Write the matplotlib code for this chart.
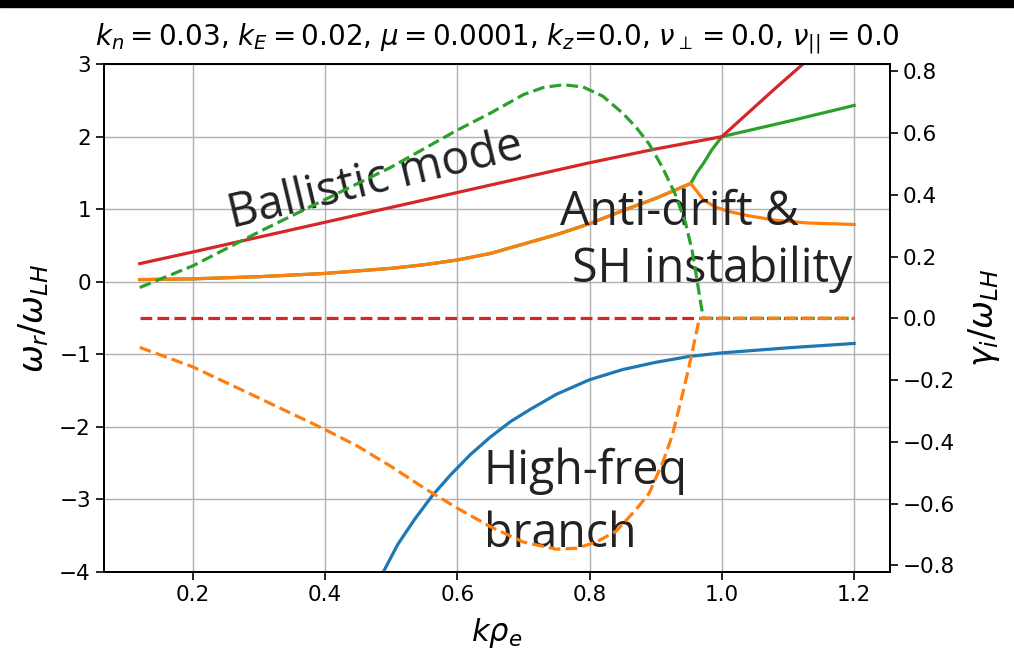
import numpy as np
import matplotlib.pyplot as plt
from matplotlib.patches import Rectangle

# ---- data ----
# real frequency (left axis)
k_blue = [0.45, 0.487, 0.51, 0.535, 0.562, 0.59, 0.62, 0.65, 0.68, 0.71, 0.75, 0.80,
          0.85, 0.90, 0.95, 1.0, 1.05, 1.1, 1.15, 1.2]
w_blue = [-4.7, -4.02, -3.62, -3.28, -2.95, -2.66, -2.38, -2.14, -1.93, -1.76, -1.55, -1.35,
          -1.21, -1.11, -1.03, -0.98, -0.945, -0.91, -0.88, -0.85]

k_orange = [0.12, 0.2, 0.3, 0.4, 0.5, 0.55, 0.6, 0.65, 0.7, 0.75, 0.8, 0.85, 0.9, 0.953,
            0.962, 0.972, 0.99, 1.01, 1.04, 1.08, 1.13, 1.2]
w_orange = [0.03, 0.04, 0.07, 0.115, 0.185, 0.235, 0.30, 0.39, 0.52, 0.65, 0.80, 0.98, 1.15, 1.355,
            1.25, 1.13, 1.03, 0.97, 0.91, 0.85, 0.81, 0.79]

k_green = [0.12, 0.2, 0.3, 0.4, 0.5, 0.55, 0.6, 0.65, 0.7, 0.75, 0.8, 0.85, 0.9, 0.953,
           0.962, 0.972, 0.985, 1.0, 1.1, 1.2]
w_green = [0.03, 0.04, 0.07, 0.115, 0.185, 0.235, 0.30, 0.39, 0.52, 0.65, 0.80, 0.98, 1.15, 1.355,
           1.50, 1.63, 1.82, 2.0, 2.21, 2.43]

k_red = [0.12, 0.2, 0.4, 0.6, 0.8, 0.9, 1.0, 1.04, 1.08, 1.12, 1.16, 1.2]
w_red = [0.25, 0.41, 0.82, 1.23, 1.64, 1.83, 2.0, 2.33, 2.66, 2.98, 3.3, 3.6]

# growth rate (right axis)
k_g_orange = [0.12, 0.2, 0.3, 0.4, 0.45, 0.5, 0.55, 0.6, 0.65, 0.7, 0.75, 0.78, 0.81, 0.84,
              0.87, 0.89, 0.91, 0.925, 0.94, 0.95, 0.958, 0.966, 1.0, 1.1, 1.2]
g_orange = [-0.094, -0.157, -0.258, -0.36, -0.415, -0.48, -0.55, -0.615, -0.675, -0.725, -0.748,
            -0.745, -0.725, -0.69, -0.62, -0.567, -0.47, -0.38, -0.25, -0.16, -0.08, 0.0,
            0.0, 0.0, 0.0]

k_g_green = [0.12, 0.2, 0.3, 0.4, 0.5, 0.55, 0.6, 0.65, 0.7, 0.73, 0.76, 0.79, 0.82, 0.85,
             0.87, 0.89, 0.91, 0.93, 0.945, 0.955, 0.962, 0.968, 0.972, 1.0, 1.1, 1.2]
g_green = [0.10, 0.17, 0.28, 0.385, 0.49, 0.55, 0.61, 0.665, 0.725, 0.748, 0.757, 0.75, 0.72,
           0.665, 0.62, 0.565, 0.49, 0.40, 0.31, 0.22, 0.13, 0.05, 0.0, 0.0, 0.0, 0.0]

k_g_red = [0.12, 0.6, 1.2]
g_red = [0.0, 0.0, 0.0]

title = (r'$k_n = 0.03$, $k_E = 0.02$, $\mu = 0.0001$, $k_z$=0.0, '
         r'$\nu_\perp = 0.0$, $\nu_{||} = 0.0$')

fig = plt.figure(figsize=(10.14, 6.71), dpi=100)
ax = fig.add_axes([0.1026, 0.1475, 0.775, 0.757])
ax2 = ax.twinx()

lw = 2.3
ax.plot(k_blue, w_blue, color='C0', lw=lw)
ax.plot(k_green, w_green, color='C2', lw=lw)
ax.plot(k_orange, w_orange, color='C1', lw=lw)
ax.plot(k_red, w_red, color='C3', lw=lw)

ax2.plot(k_g_green, g_green, '--', color='C2', lw=lw)
ax2.plot(k_g_red, g_red, '--', color='C3', lw=lw)
ax2.plot(k_g_orange, g_orange, '--', color='C1', lw=lw)

ax.set_xlim(0.066, 1.254)
ax.set_ylim(-4, 3)
ax2.set_ylim(-0.822, 0.824)
ax.set_xticks([0.2, 0.4, 0.6, 0.8, 1.0, 1.2])
ax2.set_yticks([-0.8, -0.6, -0.4, -0.2, 0.0, 0.2, 0.4, 0.6, 0.8])
ax.grid(True, color='#b0b0b0', lw=1.0)

for a in (ax, ax2):
    a.tick_params(labelsize=15.5, length=6, width=1.2)
    for s in a.spines.values():
        s.set_linewidth(1.3)

ax.set_xlabel(r'$k\rho_e$', fontsize=22, labelpad=8)
ax.set_ylabel(r'$\omega_r/\omega_{LH}$', fontsize=24, labelpad=6)
ax2.set_ylabel(r'$\gamma_i/\omega_{LH}$', fontsize=24, labelpad=8)
ax.set_title(title, fontsize=20, pad=14)

# annotations
afont = dict(family='Open Sans', fontsize=33.5, color='#222222')
ax.text(0.26, 0.74, 'Ballistic mode', rotation=13.5, rotation_mode='anchor',
        ha='left', va='baseline', **afont)
ax.text(0.756, 0.78, 'Anti-drift &', ha='left', va='baseline', **afont)
ax.text(0.773, 0.0, 'SH instability', ha='left', va='baseline', **afont)
ax.text(0.640, -2.787, 'High-freq', ha='left', va='baseline', **afont)
ax.text(0.640, -3.66, 'branch', ha='left', va='baseline', **afont)

# black strip across the top of the image
fig.patches.append(Rectangle((0, 1 - 7 / 671), 1, 7 / 671, transform=fig.transFigure,
                             color='black', zorder=10))

fig.savefig('out.png', dpi=100)
